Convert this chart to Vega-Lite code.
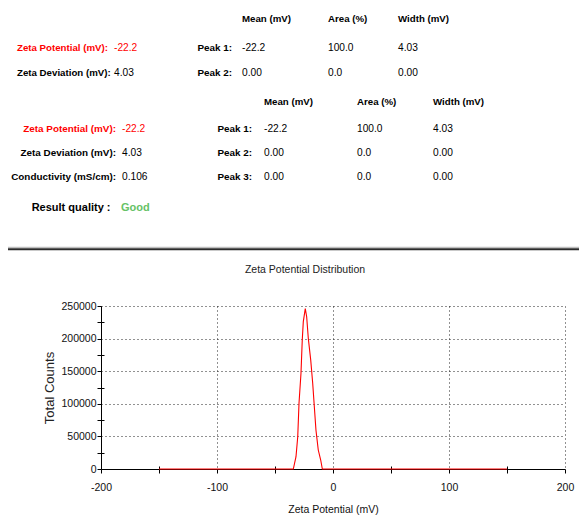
{
  "$schema": "https://vega.github.io/schema/vega-lite/v6.json",
  "width": 464,
  "height": 163,
  "autosize": {"type": "none"},
  "padding": {"left": 101, "top": 306, "right": 14, "bottom": 46},
  "background": "white",
  "config": {"view": {"stroke": null}, "font": "Liberation Sans"},
  "resolve": {"scale": {"x": "independent", "y": "independent"}},
  "layer": [
    {
      "data": {"values": [
        {"zeta": -150, "counts": 0},
        {"zeta": -100, "counts": 0},
        {"zeta": -50, "counts": 0},
        {"zeta": -34.2, "counts": 0},
        {"zeta": -31.9, "counts": 18900},
        {"zeta": -30.4, "counts": 49500},
        {"zeta": -29.3, "counts": 100800},
        {"zeta": -27.6, "counts": 146800},
        {"zeta": -26.5, "counts": 198000},
        {"zeta": -25.6, "counts": 226000},
        {"zeta": -23.9, "counts": 246000},
        {"zeta": -22.7, "counts": 233600},
        {"zeta": -21.3, "counts": 200500},
        {"zeta": -19.2, "counts": 167000},
        {"zeta": -17.5, "counts": 131400},
        {"zeta": -16.1, "counts": 95500},
        {"zeta": -14.7, "counts": 59800},
        {"zeta": -12.7, "counts": 29100},
        {"zeta": -10.6, "counts": 13800},
        {"zeta": -9.2, "counts": 0},
        {"zeta": 0, "counts": 0},
        {"zeta": 50, "counts": 0},
        {"zeta": 100, "counts": 0},
        {"zeta": 150, "counts": 0}
      ]},
      "mark": {"type": "line", "color": "#ff0000", "strokeWidth": 1.1},
      "encoding": {
        "x": {
          "field": "zeta", "type": "quantitative",
          "scale": {"domain": [-200, 200], "nice": false, "zero": false},
          "axis": {
            "orient": "bottom",
            "values": [-200, -150, -100, -50, 0, 50, 100, 150, 200],
            "labelExpr": "datum.value % 100 === 0 ? '' + datum.value : ''",
            "labelFlush": false, "labelOverlap": false,
            "grid": true,
            "gridOpacity": {"condition": {"test": "datum.value % 100 === 0", "value": 1}, "value": 0},
            "gridDash": [1, 3], "gridColor": "#222", "gridWidth": 1,
            "tickSize": 4, "tickColor": "#000", "domainColor": "#000",
            "labelFontSize": 10.5, "labelColor": "#111", "labelPadding": 9,
            "title": "Zeta Potential (mV)", "titleFontSize": 10.5, "titleFontWeight": "normal",
            "titleColor": "#111", "titlePadding": 12
          }
        },
        "y": {
          "field": "counts", "type": "quantitative",
          "scale": {"domain": [0, 250000], "nice": false, "zero": false},
          "axis": {
            "orient": "left",
            "values": [0, 25000, 50000, 75000, 100000, 125000, 150000, 175000, 200000, 225000, 250000],
            "labelExpr": "datum.value % 50000 === 0 ? '' + datum.value : ''",
            "labelFlush": false, "labelOverlap": false,
            "grid": true,
            "gridOpacity": {"condition": {"test": "datum.value % 50000 === 0", "value": 1}, "value": 0},
            "gridDash": [1, 3], "gridColor": "#222", "gridWidth": 1,
            "tickSize": 4, "tickColor": "#000", "domainColor": "#000",
            "labelFontSize": 10.5, "labelColor": "#111", "labelPadding": 1,
            "title": "Total Counts", "titleFontSize": 13, "titleFontWeight": "normal",
            "titleColor": "#222", "titlePadding": 4
          }
        }
      }
    },
    {
      "data": {"values": [{"zeta": 0, "counts": 0}]},
      "mark": {"type": "point", "opacity": 0},
      "encoding": {
        "x": {
          "field": "zeta", "type": "quantitative",
          "scale": {"domain": [-200, 200], "nice": false, "zero": false},
          "axis": {"orient": "bottom", "values": [-150, -50, 50, 150], "labels": false, "domain": false, "grid": false, "tickSize": -3, "tickColor": "#000", "title": null}
        },
        "y": {
          "field": "counts", "type": "quantitative",
          "scale": {"domain": [0, 250000], "nice": false, "zero": false},
          "axis": {"orient": "left", "values": [25000, 75000, 125000, 175000, 225000], "labels": false, "domain": false, "grid": false, "tickSize": -3, "tickColor": "#000", "title": null}
        }
      }
    },
    {
      "data": {"values": [
        {"line": 0, "col": 3, "role": "head", "tone": "plain", "text": "Mean (mV)"},
        {"line": 0, "col": 4, "role": "head", "tone": "plain", "text": "Area (%)"},
        {"line": 0, "col": 5, "role": "head", "tone": "plain", "text": "Width (mV)"},
        {"line": 1, "col": 0, "role": "labelL", "tone": "zeta", "text": "Zeta Potential (mV):"},
        {"line": 1, "col": 1, "role": "val", "tone": "zeta", "text": "-22.2"},
        {"line": 1, "col": 2, "role": "labelR", "tone": "plain", "text": "Peak 1:"},
        {"line": 1, "col": 3, "role": "val", "tone": "plain", "text": "-22.2"},
        {"line": 1, "col": 4, "role": "val", "tone": "plain", "text": "100.0"},
        {"line": 1, "col": 5, "role": "val", "tone": "plain", "text": "4.03"},
        {"line": 2, "col": 0, "role": "labelL", "tone": "plain", "text": "Zeta Deviation (mV):"},
        {"line": 2, "col": 1, "role": "val", "tone": "plain", "text": "4.03"},
        {"line": 2, "col": 2, "role": "labelR", "tone": "plain", "text": "Peak 2:"},
        {"line": 2, "col": 3, "role": "val", "tone": "plain", "text": "0.00"},
        {"line": 2, "col": 4, "role": "val", "tone": "plain", "text": "0.0"},
        {"line": 2, "col": 5, "role": "val", "tone": "plain", "text": "0.00"},
        {"line": 3, "col": 9, "role": "head", "tone": "plain", "text": "Mean (mV)"},
        {"line": 3, "col": 10, "role": "head", "tone": "plain", "text": "Area (%)"},
        {"line": 3, "col": 11, "role": "head", "tone": "plain", "text": "Width (mV)"},
        {"line": 4, "col": 6, "role": "labelR", "tone": "zeta", "text": "Zeta Potential (mV):"},
        {"line": 4, "col": 7, "role": "val", "tone": "zeta", "text": "-22.2"},
        {"line": 4, "col": 8, "role": "labelR", "tone": "plain", "text": "Peak 1:"},
        {"line": 4, "col": 9, "role": "val", "tone": "plain", "text": "-22.2"},
        {"line": 4, "col": 10, "role": "val", "tone": "plain", "text": "100.0"},
        {"line": 4, "col": 11, "role": "val", "tone": "plain", "text": "4.03"},
        {"line": 5, "col": 6, "role": "labelR", "tone": "plain", "text": "Zeta Deviation (mV):"},
        {"line": 5, "col": 7, "role": "val", "tone": "plain", "text": "4.03"},
        {"line": 5, "col": 8, "role": "labelR", "tone": "plain", "text": "Peak 2:"},
        {"line": 5, "col": 9, "role": "val", "tone": "plain", "text": "0.00"},
        {"line": 5, "col": 10, "role": "val", "tone": "plain", "text": "0.0"},
        {"line": 5, "col": 11, "role": "val", "tone": "plain", "text": "0.00"},
        {"line": 6, "col": 6, "role": "labelR", "tone": "plain", "text": "Conductivity (mS/cm):"},
        {"line": 6, "col": 7, "role": "val", "tone": "plain", "text": "0.106"},
        {"line": 6, "col": 8, "role": "labelR", "tone": "plain", "text": "Peak 3:"},
        {"line": 6, "col": 9, "role": "val", "tone": "plain", "text": "0.00"},
        {"line": 6, "col": 10, "role": "val", "tone": "plain", "text": "0.0"},
        {"line": 6, "col": 11, "role": "val", "tone": "plain", "text": "0.00"},
        {"line": 7, "col": 15, "role": "qlabel", "tone": "plain", "text": "Result quality :"},
        {"line": 7, "col": 16, "role": "qval", "tone": "good", "text": "Good"},
        {"line": 8, "col": 12, "col2": 13, "role": "sep", "tone": "plain", "text": ""},
        {"line": 9, "col": 14, "role": "title", "tone": "plain", "text": "Zeta Potential Distribution"}
      ]},
      "encoding": {
        "x": {
          "field": "col", "type": "quantitative", "axis": null,
          "scale": {"domain": [0, 1, 2, 3, 4, 5, 6, 7, 8, 9, 10, 11, 12, 13, 14, 15, 16],
                    "range": [-84, 13, 131, 141, 227, 297, 15, 21, 151, 163, 256, 332, -93, 478, 204, 9.5, 20],
                    "nice": false, "zero": false}
        },
        "y": {
          "field": "line", "type": "quantitative", "axis": null,
          "scale": {"domain": [0, 1, 2, 3, 4, 5, 6, 7, 8, 9],
                    "range": [-287, -258, -233.3, -204.3, -176.7, -152.7, -129.3, -97.7, -56.7, -36],
                    "nice": false, "zero": false}
        }
      },
      "layer": [
        {
          "transform": [{"filter": {"field": "role", "equal": "sep"}}],
          "mark": {"type": "rule", "color": "#b0b0b0", "strokeWidth": 1, "yOffset": -2},
          "encoding": {"x2": {"field": "col2"}}
        },
        {
          "transform": [{"filter": {"field": "role", "equal": "sep"}}],
          "mark": {"type": "rule", "color": "#2a2a2a", "strokeWidth": 2},
          "encoding": {"x2": {"field": "col2"}}
        },
        {
          "transform": [{"filter": {"field": "role", "oneOf": ["head", "labelL"]}}],
          "mark": {"type": "text", "align": "left", "baseline": "middle", "font": "Liberation Sans", "fontWeight": "bold", "fontSize": 9.7},
          "encoding": {
            "text": {"field": "text"},
            "color": {"field": "tone", "type": "nominal", "scale": {"domain": ["plain", "zeta", "good"], "range": ["#000000", "#ff0000", "#66c266"]}, "legend": null}
          }
        },
        {
          "transform": [{"filter": {"field": "role", "equal": "labelR"}}],
          "mark": {"type": "text", "align": "right", "baseline": "middle", "font": "Liberation Sans", "fontWeight": "bold", "fontSize": 9.9},
          "encoding": {
            "text": {"field": "text"},
            "color": {"field": "tone", "type": "nominal", "legend": null}
          }
        },
        {
          "transform": [{"filter": {"field": "role", "equal": "val"}}],
          "mark": {"type": "text", "align": "left", "baseline": "middle", "font": "Liberation Sans", "fontSize": 10.2},
          "encoding": {
            "text": {"field": "text"},
            "color": {"field": "tone", "type": "nominal", "legend": null}
          }
        },
        {
          "transform": [{"filter": {"field": "role", "equal": "qlabel"}}],
          "mark": {"type": "text", "align": "right", "baseline": "middle", "font": "Liberation Sans", "fontWeight": "bold", "fontSize": 11},
          "encoding": {
            "text": {"field": "text"},
            "color": {"field": "tone", "type": "nominal", "legend": null}
          }
        },
        {
          "transform": [{"filter": {"field": "role", "equal": "qval"}}],
          "mark": {"type": "text", "align": "left", "baseline": "middle", "font": "Liberation Sans", "fontWeight": "bold", "fontSize": 11},
          "encoding": {
            "text": {"field": "text"},
            "color": {"field": "tone", "type": "nominal", "legend": null}
          }
        },
        {
          "transform": [{"filter": {"field": "role", "equal": "title"}}],
          "mark": {"type": "text", "align": "center", "baseline": "middle", "font": "Liberation Sans", "fontSize": 10.5, "color": "#222"},
          "encoding": {"text": {"field": "text"}}
        }
      ]
    }
  ]
}
